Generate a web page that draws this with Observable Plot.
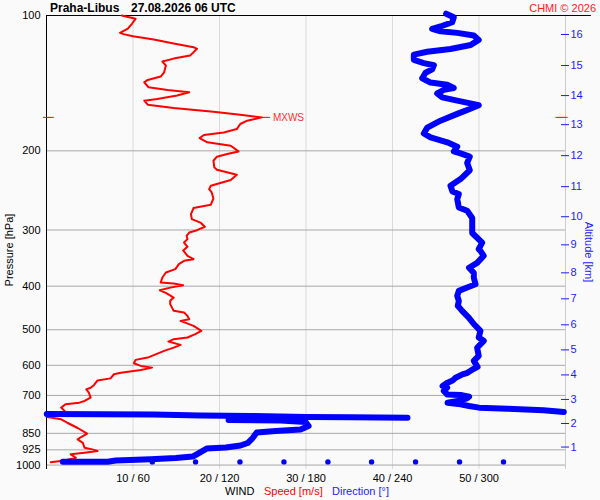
<!DOCTYPE html>
<html><head><meta charset="utf-8">
<script src="https://cdn.jsdelivr.net/npm/d3@7"></script>
<script src="https://cdn.jsdelivr.net/npm/@observablehq/plot@0.6"></script>
<style>
html,body{margin:0;padding:0;background:#fafafa;}
#chart svg{display:block;}
</style></head><body><div id="chart"></div>
<script>
const stationName = "Praha-Libus";
const stampText = "27.08.2026 06 UTC";
const creditText = "CHMI © 2026";

const pressureTicks = [100, 200, 300, 400, 500, 600, 700, 850, 925, 1000];
const gridPressures = [200, 300, 400, 500, 600, 700, 850, 925, 1000];
const speedTicks = [10, 20, 30, 40, 50];
const altitudeKm = [1, 2, 3, 4, 5, 6, 7, 8, 9, 10, 11, 12, 13, 14, 15, 16];
const altitudePressure = [911.8, 808.2, 714.6, 630.2, 554.4, 487.6, 426.8, 373.6, 323.7, 280.3, 240.3, 205.0, 174.9, 150.7, 129.2, 110.2];

// wind speed profile [m/s] by pressure [hPa]
const speedPressure = [100, 101.7, 104.2, 107.0, 109.3, 110, 111.2, 113.1, 115.4, 117.6, 118.6, 122.8, 124.7, 126.6, 129.2, 133.8, 136.7, 139.1, 140.8, 144.4, 146.4, 148.2, 150.7, 153.3, 154.7, 157.9, 160.6, 163.7, 166.2, 168.5, 171.4, 174.3, 178.9, 182.0, 184.4, 187.3, 191.5, 194.8, 200.6, 203.3, 206.1, 210.4, 217.7, 220.4, 226.0, 232.2, 239.1, 243.3, 247.5, 255.2, 263.6, 268.1, 276.5, 283.8, 288.8, 295.1, 300.3, 303.9, 309.0, 314.3, 319.9, 327.0, 333.2, 342.4, 348.3, 351.3, 357.3, 366.6, 373.0, 382.7, 392.6, 394.6, 398.0, 403.0, 408.6, 413.9, 424.0, 431.2, 438.6, 453.9, 457.9, 465.7, 473.7, 477.8, 490.1, 502.9, 511.4, 520.4, 524.8, 531.2, 540.3, 547.9, 557.2, 576.7, 583.5, 593.7, 601.8, 607.1, 614.3, 623.0, 628.1, 641.5, 648.2, 663.4, 672.9, 678.6, 690.4, 708.0, 720.1, 726.4, 732.4, 745.2, 758.0, 764.6, 771.0, 781.8, 791.2, 805.1, 827.1, 851.6, 866.2, 876.5, 892.3, 915.3, 922.9, 930.6, 938.7, 946.7, 963.3, 976.5, 985.3];
const speedValue = [8.7, 10.3, 9.9, 9.4, 8.5, 8.9, 10.0, 12.4, 14.7, 17.0, 17.4, 16.6, 14.7, 13.4, 13.8, 13.6, 13.2, 11.7, 11.3, 11.8, 14.0, 16.5, 15.1, 12.8, 11.3, 11.7, 14.7, 19.3, 22.4, 24.9, 23.2, 22.4, 22.0, 20.5, 18.2, 17.7, 18.6, 21.3, 22.2, 20.9, 19.7, 19.3, 19.4, 19.7, 22.0, 21.3, 19.0, 18.8, 19.1, 19.3, 19.0, 17.0, 16.7, 16.8, 17.8, 18.3, 17.4, 16.5, 16.2, 16.3, 15.9, 16.3, 15.8, 16.3, 17.0, 15.9, 15.3, 14.9, 13.8, 13.4, 13.2, 14.7, 15.8, 14.3, 13.1, 13.8, 14.7, 14.3, 14.3, 14.7, 15.9, 16.3, 16.5, 15.5, 17.0, 17.9, 17.2, 16.3, 14.7, 14.1, 15.5, 14.7, 13.6, 11.7, 10.3, 10.1, 10.9, 12.2, 10.9, 8.6, 7.8, 7.4, 5.9, 5.5, 5.1, 4.6, 4.9, 5.1, 4.4, 3.8, 2.2, 1.7, 2.1, 1.5, 0.1, 0.1, 1.7, 2.4, 3.6, 4.7, 4.0, 3.6, 4.2, 4.4, 5.3, 5.9, 4.4, 2.8, 3.4, 2.1, 0.5];

// wind direction profile [deg] by pressure [hPa], in drawn segments
const dirPressure = [
  983.2, 983.2, 977.2, 971.2, 964.8, 957.4, 935.4, 919.0, 914.2, 904.8, 893.3, 870.6, 846.4, 839.9, 833.5, 818.6, 802.0, 795.8, 793.8,
  784.5, 782.9, 781.7, 777.7, 775.7, 771.8, 771.0, 769.8,
  761.9, 755.3, 749.1, 745.2, 738.8, 732.4, 726.4, 720.1, 710.4, 704.8, 698.3, 696.3, 684.1, 672.6, 666.8, 655.6, 647.6, 639.2, 628.5, 623.4, 612.9, 604.9, 586.5, 571.6, 548.3, 529.3, 520.4, 502.9, 485.5, 469.8, 453.9, 442.4, 431.2, 420.3, 409.7, 402.8, 396.0, 383.3, 373.6, 364.1, 355.0, 342.4, 333.8, 330.9, 320.0, 312.2, 304.7, 293.6, 282.0, 271.9, 267.3, 256.1, 249.6, 246.4, 239.1, 231.1, 220.9, 212.8, 206.1, 202.7, 200.6, 195.8, 191.5, 186.7, 183.0, 177.6, 171.4, 165.5, 161.4, 158.3, 154.7, 152.1, 149.1, 146.4, 145.0, 142.6, 141.0, 137.9, 134.1, 131.8, 129.0, 127.6, 125.5, 122.2, 120.4, 118.7, 116.3, 113.3, 110.8, 109.3, 108.4, 107.1, 105.8, 103.5, 100.9, 99.1
];
const dirValue = [
  11.3, 42.5, 48.0, 72.3, 89.6, 101.4, 106.9, 111.1, 124.3, 134.6, 139.5, 143.0, 145.8, 159.0, 176.2, 181.8, 179.7, 162.4, 126.3,
  250.4, 210.9, 180.4, 141.6, 106.9, 74.3, 37.6, 0.2,
  358.8, 344.7, 319.7, 300.0, 293.1, 287.2, 278.2, 284.9, 291.8, 293.1, 287.2, 277.9, 275.6, 277.9, 274.7, 278.2, 282.0, 283.8, 288.5, 292.0, 295.5, 299.0, 296.4, 299.8, 298.7, 303.3, 299.8, 301.0, 296.4, 292.9, 288.3, 285.3, 286.0, 284.9, 286.0, 291.8, 297.6, 296.4, 296.4, 293.1, 298.7, 303.3, 301.0, 299.8, 302.2, 298.7, 295.3, 295.3, 295.3, 291.8, 286.0, 284.9, 286.0, 281.6, 280.2, 287.2, 293.6, 291.8, 293.6, 287.2, 282.5, 284.9, 278.0, 266.4, 261.7, 264.1, 273.3, 284.9, 293.6, 299.8, 284.9, 274.5, 271.0, 275.6, 282.5, 277.9, 266.4, 260.6, 262.9, 267.5, 268.7, 261.7, 254.8, 254.8, 264.1, 280.2, 294.2, 299.8, 296.4, 284.9, 273.3, 267.5, 273.3, 281.4, 282.5, 277.2
];
const dirSegment = [
  ...Array(19).fill("low"),
  ...Array(8).fill("calm"),
  ...Array(dirValue.length - 27).fill("upper")
];
// separate direction dots at the lowest level
const surfaceDotPressure = 984;
const surfaceDotDir = [73.4, 103.4, 134.2, 164.7, 195.2, 225.5, 256.0, 286.5, 317.0];

const speedData = speedPressure.map((p, i) => ({p, v: speedValue[i]}));
const dirData = dirPressure.map((p, i) => ({p, d: dirValue[i], seg: dirSegment[i]}));
const maxWind = d3.greatest(speedData, d => d.v);
const kmOf = new Map(altitudePressure.map((p, i) => [p, altitudeKm[i]]));

const FONT = "'Liberation Sans', Arial, Helvetica, sans-serif";

const svg = Plot.plot({
  width: 600,
  height: 500,
  marginTop: 15,
  marginBottom: 31,
  marginLeft: 46,
  marginRight: 35,
  style: {background: "#fafafa", fontFamily: FONT, fontSize: "11px", overflow: "visible"},
  x: {domain: [0, 60]},
  y: {type: "log", domain: [100, 1023], reverse: true},
  marks: [
    Plot.ruleX(speedTicks, {stroke: "#dadada"}),
    Plot.ruleX([60], {stroke: "#cccccc"}),
    Plot.ruleY(gridPressures, {stroke: "#a8a8a8"}),
    Plot.ruleX([0], {stroke: "black"}),
    Plot.ruleY([100], {x1: 0, x2: 63, stroke: "black"}),
    Plot.axisX(speedTicks, {anchor: "bottom", tickSize: 0, tickPadding: 5, fontSize: 11, tickFormat: d => `${d} / ${d * 6}`, label: null, fill: "black"}),
    Plot.axisY(pressureTicks, {anchor: "left", tickSize: 0, tickPadding: 6, fontSize: 11, tickFormat: d => String(d), label: null, fill: "black"}),
    Plot.axisY(altitudePressure, {anchor: "right", tickSize: 8, dx: -5, tickPadding: 2, fontSize: 11, tickFormat: p => String(kmOf.get(p)), label: null, color: "#1a1aff"}),
    Plot.line(speedData, {x: "v", y: "p", stroke: "red", strokeWidth: 2, strokeLinejoin: "round"}),
    Plot.ruleY([maxWind], {y: "p", x1: 0, x2: 1.25, dx: -3, stroke: "red"}),
    Plot.ruleY([maxWind], {y: "p", x1: 58.9, x2: 60.3, stroke: "red"}),
    Plot.ruleY([maxWind], {y: "p", x1: "v", x2: d => d.v + 1, stroke: "red"}),
    Plot.text([maxWind], {x: "v", y: "p", text: () => "MXWS", dx: 11, textAnchor: "start", fill: "#ff3030", fontSize: 10}),
    Plot.line(dirData, {x: d => d.d / 6, y: "p", z: "seg", stroke: "blue", strokeWidth: 6, strokeLinecap: "round", strokeLinejoin: "round"}),
    Plot.dot(surfaceDotDir, {x: d => d / 6, y: () => surfaceDotPressure, r: 2.7, fill: "blue"})
  ]
});

const s = d3.select(svg);
const addText = (x, y, str, opts = {}) => s.append("text")
  .attr("x", x).attr("y", y)
  .attr("text-anchor", opts.anchor || "start")
  .attr("font-family", FONT)
  .attr("font-size", opts.size || 11)
  .attr("font-weight", opts.weight || "normal")
  .attr("fill", opts.fill || "black")
  .attr("transform", opts.transform || null)
  .text(str);
addText(50, 12, stationName, {size: 12, weight: "bold"});
addText(131, 12, stampText, {size: 12, weight: "bold"});
addText(596, 12, creditText, {anchor: "end", fill: "#ff2020"});
addText(0, 0, "Pressure [hPa]", {anchor: "middle", transform: "translate(13,250) rotate(-90)"});
addText(0, 0, "Altitude [km]", {anchor: "middle", fill: "#1a1aff", transform: "translate(585,252) rotate(90)"});
addText(225, 495, "WIND");
addText(264, 495, "Speed [m/s]", {fill: "red"});
addText(332, 495, "Direction [°]", {fill: "#1a1aff"});

document.getElementById("chart").appendChild(svg);
</script>
</body></html>
